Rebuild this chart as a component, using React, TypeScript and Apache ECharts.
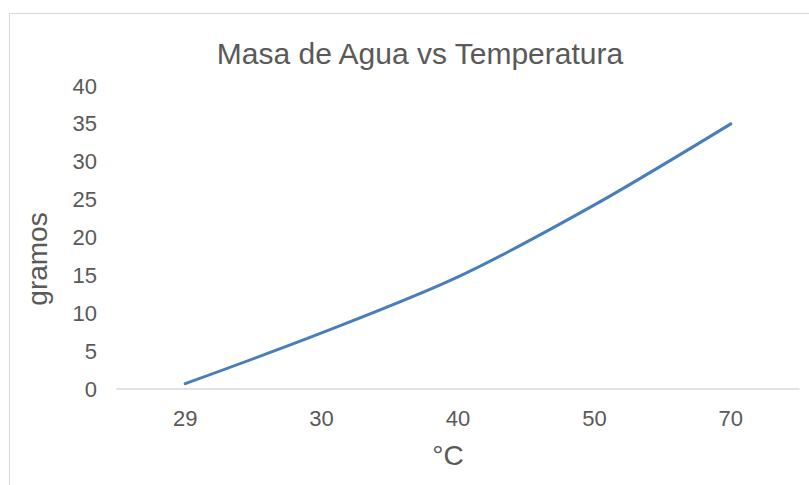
import React, { useEffect, useRef } from "react";
import * as echarts from "echarts";

const categories = ["29", "30", "40", "50", "70"];
const masaValues = [0.7, 7.4, 14.8, 24.3, 35];
const titleText = "Masa de Agua vs Temperatura";
const xName = "°C";
const yName = "gramos";

export default function App() {
  const ref = useRef<HTMLDivElement>(null);
  useEffect(() => {
    document.body.style.margin = "0";
    const chart = echarts.init(ref.current!, null, { renderer: "svg" });
    const font = "Liberation Sans, Arial, sans-serif";
    chart.setOption({
      animation: false,
      backgroundColor: "#ffffff",
      textStyle: { fontFamily: font },
      title: {
        text: titleText,
        left: 415,
        top: 33,
        textAlign: "center",
        textStyle: { fontSize: 30, fontWeight: "normal", color: "#595959", fontFamily: font },
      },
      graphic: [
        {
          type: "rect",
          shape: { x: 9.5, y: 13.5, width: 900, height: 600 },
          style: { fill: "none", stroke: "#d9d9d9", lineWidth: 1 },
          silent: true,
        },
        {
          type: "text",
          x: 37,
          y: 259,
          rotation: Math.PI / 2,
          style: {
            text: yName,
            fontSize: 28,
            fill: "#595959",
            fontFamily: font,
            align: "center",
            verticalAlign: "middle",
          },
          silent: true,
        },
      ],
      grid: { left: 117, right: 10, top: 86, bottom: 96 },
      xAxis: {
        type: "category",
        data: categories,
        boundaryGap: true,
        name: xName,
        nameLocation: "middle",
        nameGap: 52,
        nameTextStyle: { fontSize: 28, color: "#595959", fontFamily: font, padding: [0, 20, 0, 0] },
        axisLine: { show: true, lineStyle: { color: "#d9d9d9", width: 1.5 } },
        axisTick: { show: false },
        axisLabel: { fontSize: 22, color: "#595959", margin: 18, fontFamily: font },
        splitLine: { show: false },
      },
      yAxis: {
        type: "value",
        min: 0,
        max: 40,
        interval: 5,
        axisLine: { show: false },
        axisTick: { show: false },
        axisLabel: { fontSize: 22, color: "#595959", margin: 20, fontFamily: font },
        splitLine: { show: false },
      },
      series: [
        {
          type: "line",
          data: masaValues,
          smooth: 0.3,
          symbol: "none",
          lineStyle: { color: "#4a7ebb", width: 3, cap: "round" },
        },
      ],
    });
    return () => chart.dispose();
  }, []);
  return <div ref={ref} style={{ width: 809, height: 485, position: "absolute", left: 0, top: 0 }} />;
}
